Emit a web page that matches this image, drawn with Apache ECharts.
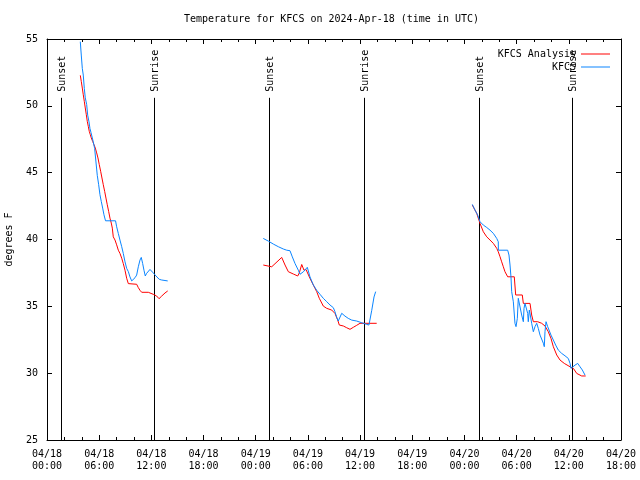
<!DOCTYPE html>
<html>
<head>
<meta charset="utf-8">
<script src="https://cdn.jsdelivr.net/npm/echarts@6/dist/echarts.min.js"></script>
<style>html,body{margin:0;padding:0;background:#fff}#c{width:640px;height:480px}</style>
</head>
<body>
<div id="c"></div>
<script>
// hours since 2024-04-18 00:00 UTC
const xTickLabels = ['04/18\n00:00','04/18\n06:00','04/18\n12:00','04/18\n18:00','04/19\n00:00','04/19\n06:00','04/19\n12:00','04/19\n18:00','04/20\n00:00','04/20\n06:00','04/20\n12:00','04/20\n18:00'];
const sunHours = [1.58, 12.31, 25.58, 36.4, 49.63, 60.33];
const sunLabels = ['Sunset','Sunrise','Sunset','Sunrise','Sunset','Sunrise'];
const sunLineTop = 50.6;

const anaHours = [3.83,3.94,4.06,4.17,4.29,4.40,4.52,4.63,4.75,4.86,4.98,5.09,5.25,5.40,5.55,5.71,5.86,6.01,6.17,6.32,6.47,6.63,6.78,6.93,7.09,7.24,7.39,7.51,7.62,7.82,8.01,8.20,8.39,8.59,8.77,8.97,9.16,9.35,9.54,10.31,10.50,10.69,10.89,11.65,11.84,12.22,12.61,12.88,13.19,13.57,13.88,
  null,
  24.87,25.84,26.99,27.37,27.75,28.32,28.83,29.01,29.29,29.55,29.78,30.24,30.62,31.01,31.31,31.77,32.16,32.74,33.11,33.43,33.61,34.07,34.46,34.84,35.22,35.61,35.99,37.91,
  null,
  48.9,49.41,49.79,50.17,50.56,50.94,51.32,51.71,51.89,52.09,52.28,52.47,52.66,52.97,53.73,53.89,54.65,54.77,55.54,55.73,55.92,56.42,56.88,57.26,57.64,57.95,58.22,58.61,58.99,59.48,60.14,60.52,60.91,61.48,61.94];
const anaTemps = [52.28,51.83,51.33,50.83,50.33,49.84,49.34,48.84,48.46,48.09,47.84,47.6,47.34,47.1,46.85,46.48,46.1,45.6,45.1,44.6,44.1,43.6,43.1,42.6,42.1,41.6,41.23,40.85,40.2,39.96,39.6,39.2,38.96,38.6,38.2,37.7,37.1,36.7,36.65,36.65,36.4,36.2,36.05,36.05,36.1,35.9,35.77,35.57,35.77,36.0,36.15,
  null,
  38.09,37.96,38.66,38.09,37.59,37.42,37.27,37.5,38.13,37.7,37.76,37.09,36.6,36.1,35.6,35.02,34.85,34.72,34.47,33.97,33.6,33.53,33.4,33.28,33.43,33.58,33.73,33.73,
  null,
  42.58,41.96,41.2,40.58,40.2,39.96,39.71,39.34,39.08,38.71,38.33,37.96,37.59,37.21,37.21,35.85,35.85,35.22,35.22,34.35,33.85,33.85,33.73,33.53,33.1,32.6,31.98,31.36,30.98,30.73,30.48,30.36,29.98,29.79,29.79];

const obsHours = [3.83,3.94,4.06,4.17,4.29,4.40,4.56,4.68,4.83,4.94,5.06,5.32,5.48,5.63,5.78,5.94,6.09,6.24,6.40,6.55,6.73,7.88,8.01,8.20,8.39,8.59,8.77,8.97,9.16,9.35,9.54,9.74,9.81,10.12,10.31,10.50,10.69,10.84,11.00,11.15,11.30,11.46,11.84,12.22,12.53,12.91,13.19,13.88,
  null,
  24.87,25.45,26.02,26.60,27.17,27.56,27.94,28.21,28.52,28.9,29.09,29.29,29.47,29.93,30.24,30.62,31.01,31.39,31.77,32.16,32.54,32.92,33.11,33.31,33.49,33.89,34.26,34.64,35.04,35.61,36.19,36.76,37.02,37.34,37.6,37.79,
  null,
  48.9,49.21,49.52,49.79,50.17,50.56,50.94,51.32,51.71,51.89,51.9,52.97,53.12,53.24,53.35,53.43,53.62,53.81,53.93,54.08,54.19,54.39,54.58,54.77,54.85,54.96,55.16,55.27,55.34,55.46,55.57,55.73,55.92,56.11,56.31,56.49,56.69,57.07,57.18,57.26,57.38,57.57,57.72,57.95,58.22,58.49,58.79,59.18,59.56,59.94,60.14,60.25,60.4,60.71,61.02,61.29,61.55,61.86];
const obsTemps = [54.8,53.8,52.8,52.3,51.3,50.6,50.1,49.3,48.8,48.3,48.0,47.3,46.8,45.8,44.8,44.1,43.35,42.85,42.35,41.85,41.4,41.4,40.95,40.45,39.96,39.46,38.96,38.33,37.84,37.6,37.2,36.9,36.85,37.14,37.34,37.96,38.46,38.66,38.2,37.7,37.27,37.47,37.76,37.5,37.27,37.02,36.97,36.9,
  null,
  40.08,39.88,39.66,39.46,39.29,39.2,39.16,38.7,38.2,37.7,37.4,37.4,37.58,37.92,37.2,36.6,36.2,35.9,35.6,35.35,35.1,34.9,34.6,34.18,33.9,34.48,34.27,34.1,33.97,33.9,33.77,33.65,33.6,34.7,35.7,36.1,
  null,
  42.63,42.2,41.83,41.33,41.08,40.9,40.7,40.46,40.08,39.83,39.2,39.2,38.84,38.09,37.2,36.1,35.34,33.73,33.48,34.1,35.6,35.6,34.35,33.85,34.85,35.22,35.22,34.47,33.85,34.72,34.35,33.73,33.1,33.48,33.73,33.35,32.85,32.24,31.98,33.1,33.85,33.48,33.35,32.85,32.48,32.1,31.73,31.48,31.3,31.1,30.73,30.36,30.36,30.6,30.73,30.48,30.24,29.86];

function pairs(xs, ys){ return xs.map((x,i)=> x === null ? [null,null] : [x, ys[i]]); }

const FONT = '"DejaVu Sans Mono", monospace';
const axisCommon = {
  type: 'value', min: 0, max: 66, interval: 6,
  axisLine: {show: true, onZero: false, lineStyle: {color: '#000', width: 1}},
  axisTick: {show: true, inside: true, length: 5, lineStyle: {color: '#000'}},
  minorTick: {show: true, splitNumber: 3, length: 3, lineStyle: {color: '#000'}},
  splitLine: {show: false}
};
const yCommon = {
  type: 'value', min: 25, max: 55, interval: 5,
  axisLine: {show: true, onZero: false, lineStyle: {color: '#000', width: 1}},
  axisTick: {show: true, inside: true, length: 5, lineStyle: {color: '#000'}},
  splitLine: {show: false}
};
const legendCommon = {right: 30, padding: 0, align: 'right', icon: 'rect', itemWidth: 29, itemHeight: 1,
  textStyle: {fontFamily: FONT, fontSize: 10, color: '#000'}};

const chart = echarts.init(document.getElementById('c'));
chart.setOption({
  animation: false,
  backgroundColor: '#fff',
  title: {
    text: 'Temperature for KFCS on 2024-Apr-18 (time in UTC)',
    left: 184, top: 14, padding: 0,
    textStyle: {fontFamily: FONT, fontSize: 10, fontWeight: 'normal', color: '#000'}
  },
  legend: [
    Object.assign({}, legendCommon, {data: ['KFCS Analysis'], top: 49}),
    Object.assign({}, legendCommon, {data: ['KFCS'], top: 62})
  ],
  grid: {left: 47, right: 19, top: 39, bottom: 40, containLabel: false, outerBoundsMode: 'none'},
  xAxis: [
    Object.assign({}, axisCommon, {position: 'bottom',
      axisLabel: {formatter: v => xTickLabels[Math.round(v/6)], fontFamily: FONT, fontSize: 10, color: '#000', lineHeight: 12, margin: 8}}),
    Object.assign({}, axisCommon, {position: 'top', axisLabel: {show: false}})
  ],
  yAxis: [
    Object.assign({}, yCommon, {position: 'left',
      axisLabel: {fontFamily: FONT, fontSize: 10, color: '#000', margin: 9},
      name: 'degrees F', nameLocation: 'middle', nameGap: 33, nameRotate: 90,
      nameTextStyle: {fontFamily: FONT, fontSize: 10, color: '#000'}}),
    Object.assign({}, yCommon, {position: 'right', axisLabel: {show: false}})
  ],
  series: [
    {
      type: 'custom', name: 'sun', xAxisIndex: 0, yAxisIndex: 0, silent: true, z: 1,
      data: sunHours.map(h => [h, 25]),
      renderItem: function(params, api) {
        const h = api.value(0);
        const b = api.coord([h, 25]);
        const t = api.coord([h, sunLineTop]);
        const x = Math.round(b[0]) + 0.5;
        return {type: 'group', children: [
          {type: 'line', shape: {x1: x, y1: b[1], x2: x, y2: t[1]}, style: {stroke: '#000', lineWidth: 1}},
          {type: 'text', x: x + 1, y: t[1] - 6, rotation: Math.PI / 2,
           style: {text: sunLabels[params.dataIndex], font: '10px ' + FONT, fill: '#000', align: 'left', verticalAlign: 'middle'}}
        ]};
      }
    },
    {
      type: 'line', name: 'KFCS Analysis', data: pairs(anaHours, anaTemps), showSymbol: false, symbol: 'none',
      connectNulls: false, z: 2, color: '#ff0000', lineStyle: {color: '#ff0000', width: 1}
    },
    {
      type: 'line', name: 'KFCS', data: pairs(obsHours, obsTemps), showSymbol: false, symbol: 'none',
      connectNulls: false, z: 3, color: '#0a85ff', lineStyle: {color: '#0a85ff', width: 1}
    }
  ]
});
</script>
</body>
</html>
